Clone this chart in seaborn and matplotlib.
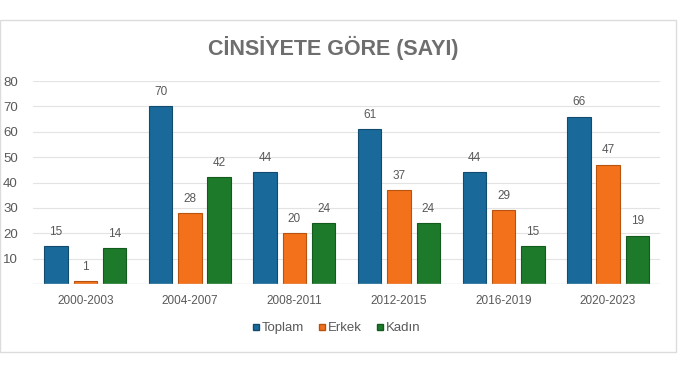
import pandas as pd
import seaborn as sns
import matplotlib.pyplot as plt
from matplotlib.patches import Rectangle
from matplotlib.lines import Line2D

# data
periods = ["2000-2003", "2004-2007", "2008-2011", "2012-2015", "2016-2019", "2020-2023"]
toplam = [15, 70, 44, 61, 44, 66]
erkek = [1, 28, 20, 37, 29, 47]
kadin = [14, 42, 24, 24, 15, 19]
series = ["Toplam", "Erkek", "Kadın"]
colors = ["#196a9a", "#f4711b", "#1c7a2a"]
edge_colors = ["#124b6e", "#b8520f", "#135a1d"]

df = pd.DataFrame({"Dönem": periods, "Toplam": toplam, "Erkek": erkek, "Kadın": kadin})
long_df = df.melt(id_vars="Dönem", var_name="Seri", value_name="Sayı")

sns.set_theme(style="white")
plt.rcParams["font.family"] = ["Liberation Sans", "DejaVu Sans"]

fig = plt.figure(figsize=(6.9, 3.9), dpi=100)
ax = fig.add_axes([0.048, 0.272, 0.909, 0.52])

sns.barplot(data=long_df, x="Dönem", y="Sayı", hue="Seri", hue_order=series,
            palette=colors, saturation=1, width=0.84, gap=0.2, ax=ax, legend=False)

for cont, ec in zip(ax.containers, edge_colors):
    for bar in cont:
        bar.set_edgecolor(ec)
        bar.set_linewidth(0.8)
    ax.bar_label(cont, padding=6, fontsize=8.5, color="#595959")

ax.set_xlim(-0.5, 5.5)
ax.set_ylim(0, 80)
ax.set_yticks(range(10, 90, 10))
ax.yaxis.grid(True, color="#e3e3e3", linewidth=0.8)
ax.set_axisbelow(True)
ax.axhline(0, color="#d9d9d9", linewidth=1)
for s in ax.spines.values():
    s.set_visible(False)
ax.tick_params(axis="both", length=0, labelcolor="#595959")
ax.tick_params(axis="x", labelsize=8.5, pad=8)
ax.tick_params(axis="y", labelsize=9.5, pad=11)
ax.set_xlabel("")
ax.set_ylabel("")

fig.text(0.483, 0.878, "CİNSİYETE GÖRE (SAYI)", ha="center", va="center",
         fontsize=15.5, fontweight="bold", color="#6e6e6e")

handles = [Line2D([], [], marker="s", linestyle="", markersize=5,
                  markerfacecolor=c, markeredgecolor=e)
           for c, e in zip(colors, edge_colors)]
fig.legend(handles, series, loc="center", bbox_to_anchor=(0.487, 0.158), ncol=3,
           frameon=False, fontsize=9.5, labelcolor="#595959",
           handletextpad=0.1, columnspacing=1.0, handlelength=0.7)

# light frame around the chart area
fig.patches.append(Rectangle((0.0, 0.097), 0.98, 0.851, transform=fig.transFigure,
                             fill=False, edgecolor="#dcdcdc", linewidth=1))

fig.savefig("out.png", dpi=100)
